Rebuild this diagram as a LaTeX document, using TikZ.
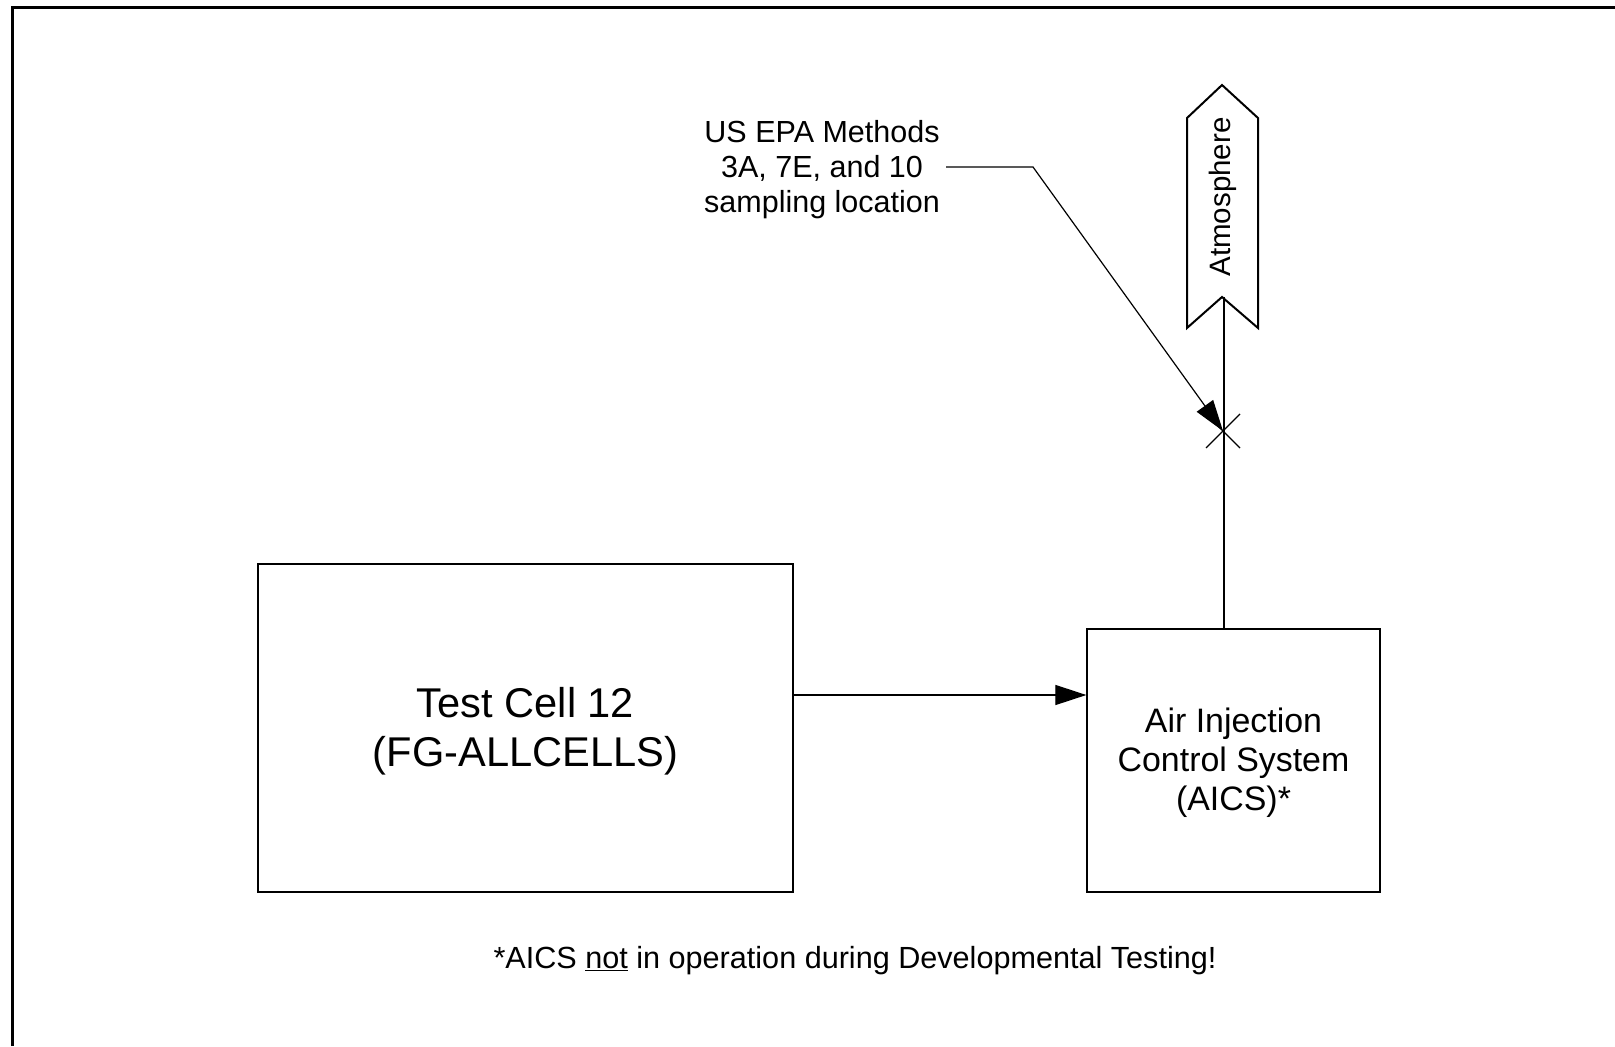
\documentclass[tikz,border=0pt]{standalone}
\usepackage{fontspec}
\setmainfont{Liberation Sans}
\usetikzlibrary{arrows.meta}
\begin{document}
\begin{tikzpicture}[x=1bp,y=-1bp,
  box/.style={draw, line width=1.3bp, inner sep=0pt, align=center},
  conn/.style={line width=1.2bp},
  arr/.style={-{Triangle[length=31bp,width=20bp]}},
  lbl/.style={inner sep=0pt, align=center},
]
\useasboundingbox (0,0) rectangle (1615,1046);
\draw[line width=3bp] (12,1046) -- (12,7) -- (1615,7);
\node[box, minimum width=535bp, minimum height=328bp, font=\fontsize{41.6bp}{49bp}\selectfont] (tc) at (525.5,728) {};
\node[lbl, font=\fontsize{41.6bp}{49bp}\selectfont] (tct) at ([yshift=-3bp]tc.center) {Test Cell 12\\(FG-ALLCELLS)};
\node[box, minimum width=293bp, minimum height=263bp] (aics) at (1233.5,760.5) {};
\node[lbl, font=\fontsize{33.9bp}{39bp}\selectfont] (aicst) at ([yshift=-2bp]aics.center) {Air Injection\\Control System\\(AICS)*};
\draw[conn,arr] (tc.east |- 0,695) -- (aics.west |- 0,695);
% atmosphere
\draw[line width=2bp] (1187,118) -- (1222,85) -- (1258,118) -- (1258,328) -- (1222,297) -- (1187,328) -- cycle;
\node[lbl, rotate=90, font=\fontsize{29.5bp}{34bp}\selectfont] (atm) at (1223,197) {Atmosphere};
\coordinate (atmb) at (1224,297);
\draw[conn] (aics.north -| atmb) -- (atmb);
% sampling point
\coordinate (samp) at (1223,431);
\draw[conn] ([shift={(-17,-17)}]samp) -- ([shift={(17,17)}]samp);
\draw[conn] ([shift={(-17,17)}]samp) -- ([shift={(17,-17)}]samp);
\node[lbl, font=\fontsize{30.5bp}{35bp}\selectfont] (epa) at (822,170) {US EPA Methods\\3A, 7E, and 10\\sampling location};
\coordinate (epaend) at (946,167);
\coordinate (bend) at (1033,167);
\draw[conn,arr] (epaend) -- (bend) -- (samp);
\node[lbl, font=\fontsize{30.6bp}{35bp}\selectfont] (note) at (855,961) {*AICS \underline{not} in operation during Developmental Testing!};
\end{tikzpicture}
\end{document}
